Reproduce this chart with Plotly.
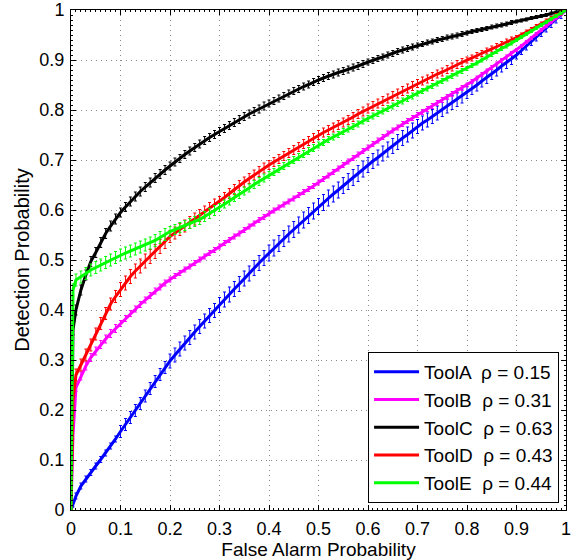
import plotly.graph_objects as go

# False alarm probabilities (shared x grid)
fa = [0.0, 0.004] + [round(0.01 * i, 2) for i in range(1, 101)]

names = ["ToolA", "ToolB", "ToolC", "ToolD", "ToolE"]
rho = ["0.15", "0.31", "0.63", "0.43", "0.44"]

tool_a = [0.0, 0.012,
    0.028, 0.048, 0.062, 0.075, 0.088, 0.101, 0.114, 0.128, 0.142, 0.157,
    0.171, 0.185, 0.199, 0.213, 0.228, 0.243, 0.257, 0.271, 0.285, 0.298,
    0.310, 0.322, 0.334, 0.345, 0.356, 0.367, 0.378, 0.389, 0.399, 0.410,
    0.421, 0.431, 0.442, 0.452, 0.463, 0.473, 0.484, 0.494, 0.504, 0.514,
    0.524, 0.533, 0.543, 0.552, 0.561, 0.570, 0.580, 0.589, 0.598, 0.607,
    0.615, 0.624, 0.632, 0.640, 0.649, 0.657, 0.665, 0.673, 0.682, 0.690,
    0.698, 0.705, 0.713, 0.721, 0.728, 0.736, 0.744, 0.751, 0.759, 0.767,
    0.774, 0.780, 0.787, 0.794, 0.801, 0.808, 0.815, 0.821, 0.828, 0.835,
    0.843, 0.850, 0.858, 0.865, 0.873, 0.880, 0.888, 0.895, 0.903, 0.910,
    0.919, 0.928, 0.937, 0.946, 0.955, 0.964, 0.973, 0.982, 0.991, 1.000]

tool_b = [0.0, 0.15,
    0.245, 0.268, 0.288, 0.305, 0.318, 0.331, 0.342, 0.353, 0.363, 0.373,
    0.383, 0.393, 0.402, 0.411, 0.420, 0.429, 0.438, 0.446, 0.454, 0.461,
    0.468, 0.474, 0.481, 0.487, 0.494, 0.501, 0.507, 0.514, 0.520, 0.527,
    0.534, 0.540, 0.547, 0.553, 0.560, 0.567, 0.573, 0.580, 0.586, 0.593,
    0.599, 0.605, 0.611, 0.617, 0.623, 0.630, 0.636, 0.642, 0.648, 0.655,
    0.662, 0.669, 0.676, 0.683, 0.690, 0.697, 0.704, 0.711, 0.718, 0.725,
    0.732, 0.739, 0.746, 0.753, 0.759, 0.765, 0.772, 0.778, 0.784, 0.790,
    0.796, 0.802, 0.808, 0.814, 0.820, 0.826, 0.832, 0.838, 0.844, 0.850,
    0.857, 0.864, 0.871, 0.878, 0.885, 0.892, 0.899, 0.906, 0.913, 0.920,
    0.928, 0.936, 0.944, 0.952, 0.960, 0.968, 0.976, 0.984, 0.992, 1.000]

tool_c = [0.0, 0.36,
    0.400, 0.440, 0.470, 0.497, 0.515, 0.535, 0.553, 0.568, 0.582, 0.595,
    0.606, 0.617, 0.627, 0.637, 0.646, 0.655, 0.664, 0.672, 0.680, 0.688,
    0.696, 0.703, 0.711, 0.718, 0.725, 0.732, 0.739, 0.745, 0.751, 0.757,
    0.763, 0.769, 0.775, 0.781, 0.787, 0.792, 0.797, 0.802, 0.808, 0.813,
    0.818, 0.823, 0.828, 0.833, 0.838, 0.842, 0.847, 0.851, 0.856, 0.860,
    0.864, 0.868, 0.871, 0.875, 0.878, 0.881, 0.885, 0.888, 0.892, 0.896,
    0.899, 0.903, 0.906, 0.910, 0.913, 0.917, 0.920, 0.923, 0.926, 0.929,
    0.932, 0.935, 0.937, 0.940, 0.942, 0.945, 0.947, 0.949, 0.952, 0.954,
    0.957, 0.959, 0.961, 0.963, 0.966, 0.968, 0.970, 0.972, 0.975, 0.977,
    0.979, 0.981, 0.984, 0.986, 0.988, 0.990, 0.993, 0.995, 0.998, 1.000]

tool_d = [0.0, 0.22,
    0.270, 0.290, 0.310, 0.330, 0.352, 0.373, 0.393, 0.412, 0.427, 0.441,
    0.454, 0.467, 0.478, 0.488, 0.498, 0.507, 0.517, 0.527, 0.537, 0.547,
    0.554, 0.561, 0.568, 0.575, 0.582, 0.589, 0.596, 0.603, 0.610, 0.617,
    0.625, 0.633, 0.641, 0.649, 0.656, 0.663, 0.670, 0.677, 0.684, 0.690,
    0.696, 0.702, 0.708, 0.714, 0.720, 0.726, 0.732, 0.738, 0.744, 0.750,
    0.755, 0.760, 0.765, 0.770, 0.775, 0.780, 0.786, 0.792, 0.797, 0.803,
    0.808, 0.813, 0.818, 0.823, 0.828, 0.833, 0.838, 0.843, 0.848, 0.853,
    0.858, 0.862, 0.867, 0.872, 0.876, 0.881, 0.886, 0.891, 0.895, 0.900,
    0.904, 0.909, 0.913, 0.918, 0.922, 0.927, 0.931, 0.936, 0.940, 0.945,
    0.950, 0.956, 0.961, 0.967, 0.972, 0.978, 0.983, 0.989, 0.994, 1.000]

tool_e = [0.0, 0.44,
    0.460, 0.466, 0.473, 0.480, 0.485, 0.490, 0.495, 0.500, 0.505, 0.510,
    0.514, 0.518, 0.522, 0.526, 0.530, 0.534, 0.539, 0.545, 0.551, 0.557,
    0.561, 0.565, 0.569, 0.573, 0.577, 0.581, 0.587, 0.593, 0.599, 0.605,
    0.612, 0.618, 0.625, 0.631, 0.638, 0.644, 0.651, 0.657, 0.664, 0.670,
    0.676, 0.682, 0.688, 0.694, 0.700, 0.706, 0.712, 0.718, 0.724, 0.730,
    0.735, 0.741, 0.746, 0.751, 0.757, 0.762, 0.767, 0.772, 0.778, 0.783,
    0.788, 0.793, 0.798, 0.803, 0.808, 0.813, 0.818, 0.823, 0.828, 0.833,
    0.838, 0.843, 0.848, 0.853, 0.858, 0.863, 0.868, 0.873, 0.878, 0.883,
    0.889, 0.894, 0.900, 0.906, 0.911, 0.917, 0.923, 0.928, 0.934, 0.940,
    0.946, 0.952, 0.958, 0.964, 0.970, 0.976, 0.982, 0.988, 0.994, 1.000]

# typical half-length of the error bars in each tenth of the x range
err_a = [0.006, 0.012, 0.014, 0.015, 0.016, 0.016, 0.015, 0.014, 0.012, 0.008]
err_b = [0.008, 0.006, 0.005, 0.005, 0.005, 0.005, 0.005, 0.005, 0.004, 0.003]
err_c = [0.010, 0.009, 0.008, 0.008, 0.007, 0.007, 0.006, 0.005, 0.004, 0.003]
err_d = [0.012, 0.014, 0.012, 0.010, 0.009, 0.009, 0.009, 0.008, 0.006, 0.004]
err_e = [0.012, 0.012, 0.010, 0.008, 0.007, 0.006, 0.006, 0.005, 0.004, 0.003]

series = [tool_a, tool_b, tool_c, tool_d, tool_e]
errors = [err_a, err_b, err_c, err_d, err_e]
colors = ["#0000ff", "#ff00ff", "#000000", "#ff0000", "#00ff00"]

for s in series:
    assert len(s) == len(fa)

FONT = "Liberation Sans, Arial, Helvetica, sans-serif"

fig = go.Figure()
for name, r, ys, er, col in zip(names, rho, series, errors, colors):
    e = [0.0 if x in (0.0, 1.0) else er[min(int(x * 10), 9)] for x in fa]
    fig.add_trace(go.Scatter(
        x=fa, y=ys, mode="lines",
        name=f"{name}  \u03c1 = {r}",
        line=dict(color=col, width=3),
        error_y=dict(type="data", array=e, visible=True, color=col,
                     thickness=1, width=1.5),
    ))

axis_common = dict(
    range=[0, 1], dtick=0.1, showgrid=True, gridcolor="#8a8a8a",
    griddash="1px,4px", gridwidth=1, showline=True, linecolor="black",
    linewidth=1, mirror="ticks", ticks="inside", ticklen=5,
    tickcolor="black", zeroline=False, ticklabeloverflow="allow",
    tickfont=dict(family=FONT, size=18, color="black"),
    minor=dict(ticks="inside", ticklen=2, dtick=0.01, tickcolor="black",
               showgrid=False),
)

fig.update_layout(
    width=571, height=560,
    margin=dict(l=71, r=0, t=10, b=50),
    paper_bgcolor="white", plot_bgcolor="white",
    font=dict(family=FONT, size=18, color="black"),
    showlegend=True,
    legend=dict(
        x=0.986, y=0.014, xanchor="right", yanchor="bottom",
        bgcolor="white", bordercolor="black", borderwidth=1,
        font=dict(family=FONT, size=19, color="black"),
        tracegroupgap=0, itemwidth=45,
    ),
)
fig.update_xaxes(**axis_common, tickformat="~g", ticklabelstandoff=2,
                 title=dict(text="False Alarm Probability", standoff=1,
                            font=dict(family=FONT, size=19)))
fig.update_yaxes(**axis_common, tickformat="~g", ticklabelstandoff=2,
                 title=dict(text="Detection Probability", standoff=4,
                            font=dict(family=FONT, size=20)))

fig.write_html("out.html")
